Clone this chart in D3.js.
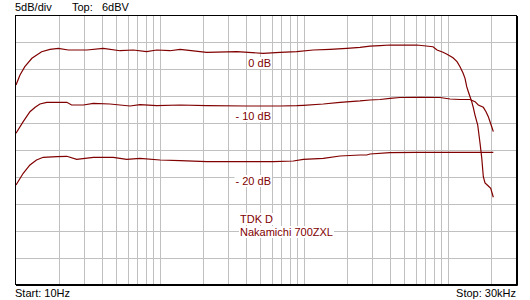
<!DOCTYPE html>
<head>
  <title>TDK D - Nakamichi 700ZXL</title>
  <style>
    body { margin: 0; background: #fff; }
    svg { display: block; }
    text { font-family: "Liberation Sans", Arial, sans-serif; font-size: 11px; }
    .grid line { stroke: #c0c0c0; stroke-width: 1; shape-rendering: crispEdges; }
    .grid path { display: none; }
  </style>
</head>

<body>
  <script src="https://cdn.jsdelivr.net/npm/d3@7"></script>
  <script>
    // data (Hz, dBV)
    var freq0  = [10.16, 10.83, 11.7, 13.1, 15.3, 17.5, 20, 23.4, 31.5, 41, 53.6, 66.2, 82, 96.3, 119, 140, 214, 346, 526, 691, 902, 1176, 1536, 2006, 2481, 2910, 3415, 4006, 4698, 6138, 7965, 8492, 9346, 9963, 10965, 11688, 12264, 12866, 13284, 13650, 14004, 14388, 14784, 15167, 15584, 16270, 16880, 17345, 17795, 18285, 19275, 20027, 20878];
    var level0 = [-7.01, -5.15, -3.61, -2.05, -0.82, -0.38, -0.19, -0.51, -0.51, -0.19, -0.64, -0.51, -0.82, -0.51, -0.64, -0.38, -0.93, -0.82, -1.12, -0.93, -0.82, -0.51, -0.38, -0.19, 0.0, 0.2, 0.3, 0.42, 0.4, 0.42, 0.1, -0.51, -0.93, -1.3, -1.94, -2.68, -3.61, -4.78, -5.77, -7.33, -8.26, -9.19, -10.1, -11.2, -12.6, -14.45, -17.79, -20.5, -24.06, -25.23, -25.78, -26.21, -27.88];

    var freq10  = [10.16, 11.4, 12.7, 13.8, 14.9, 16.6, 22.9, 24.7, 29.8, 35, 45.6, 62.8, 73.7, 96.3, 140, 214, 406, 691, 902, 1002, 1380, 1802, 2481, 2910, 3415, 4006, 4698, 6471, 8910, 10452, 12264, 14388, 15584, 16427, 17795, 18578, 19275, 19805, 20352, 20878];
    var level10 = [-15.99, -13.83, -11.97, -11.16, -10.54, -10.23, -10.23, -10.73, -10.73, -10.41, -10.54, -10.91, -10.67, -10.86, -10.73, -10.86, -10.91, -10.91, -10.86, -10.8, -10.54, -10.23, -9.98, -9.8, -9.71, -9.5, -9.33, -9.3, -9.33, -9.61, -9.71, -9.71, -10.11, -10.73, -11.16, -11.97, -12.9, -13.83, -14.76, -15.69];

    var freq20  = [10.16, 11.4, 12.7, 14.1, 15.7, 19.5, 22.9, 26.8, 35, 48.1, 59.6, 73.7, 101.5, 140, 214, 406, 620, 854, 1002, 1380, 1802, 2481, 2761, 2910, 4006, 6138, 10452, 14388, 17795, 20878];
    var level20 = [-25.6, -23.42, -21.88, -20.95, -20.45, -20.34, -20.26, -20.82, -20.45, -20.45, -20.82, -20.64, -20.95, -21.08, -21.27, -21.27, -21.27, -21.14, -20.82, -20.64, -20.21, -20.02, -20.02, -19.84, -19.59, -19.52, -19.52, -19.52, -19.52, -19.52];

    var curveLabels = ["0 dB", "- 10 dB", "- 20 dB"];
    var curveLabelLevels = [-3.67, -13.52, -25.6];
    var noteLines = ["TDK D", "Nakamichi 700ZXL"];

    var gridFreqs = [20, 30, 40, 50, 60, 70, 80, 90, 100, 200, 300, 400, 500, 600, 700, 800, 900,
                     1000, 2000, 3000, 4000, 5000, 6000, 7000, 8000, 9000, 10000, 20000];
    var gridLevels = [1, -4, -9, -14, -19, -24, -29, -34, -39];

    var red = "#800000";
    var width = 530, height = 300;
    var plot = {left: 15, top: 15, right: 516, bottom: 284};

    var svg = d3.select("body").append("svg")
      .attr("width", width)
      .attr("height", height);

    var xScale = d3.scaleLog().domain([10, 30000]).range([plot.left, plot.right]),
        yScale = d3.scaleLinear().domain([-44, 6]).range([plot.bottom, plot.top]);

    // grid
    svg.append("g")
      .attr("class", "grid")
      .attr("transform", "translate(0.5," + plot.bottom + ")")
      .call(d3.axisBottom(xScale).tickValues(gridFreqs).tickFormat("")
        .tickSize(-(plot.bottom - plot.top)).tickSizeOuter(0));

    svg.append("g")
      .attr("class", "grid")
      .attr("transform", "translate(" + plot.left + ",0.5)")
      .call(d3.axisLeft(yScale).tickValues(gridLevels).tickFormat("")
        .tickSize(-(plot.right - plot.left)).tickSizeOuter(0));

    // labels with white boxes
    function boxedText(x, y, str, anchor) {
      var g = svg.append("g");
      var t = g.append("text")
        .attr("x", x)
        .attr("y", y)
        .attr("text-anchor", anchor)
        .attr("fill", red)
        .text(str);
      var bb = t.node().getBBox();
      g.insert("rect", "text")
        .attr("x", bb.x - 1)
        .attr("y", bb.y)
        .attr("width", bb.width + 2)
        .attr("height", bb.height)
        .attr("fill", "#fff");
    }

    for (let i = 0; i < curveLabels.length; i++) {
      boxedText(271, yScale(curveLabelLevels[i]), curveLabels[i], "end");
    }
    for (let i = 0; i < noteLines.length; i++) {
      boxedText(240, 223 + 13 * i, noteLines[i], "start");
    }

    // curves
    var line = d3.line()
      .x(function(d) { return xScale(d[0]); })
      .y(function(d) { return yScale(d[1]); });

    var series = [[freq0, level0], [freq10, level10], [freq20, level20]];
    series.forEach(function(s) {
      svg.append("path")
        .attr("fill", "none")
        .attr("stroke", red)
        .attr("stroke-width", 1.2)
        .attr("d", line(d3.zip(s[0], s[1])));
    });

    // frame
    svg.append("rect")
      .attr("x", plot.left + 0.5)
      .attr("y", plot.top + 0.5)
      .attr("width", plot.right - plot.left)
      .attr("height", plot.bottom - plot.top)
      .attr("fill", "none")
      .attr("stroke", "#000")
      .attr("stroke-width", 1);
    svg.append("path")
      .attr("d", "M" + (plot.right + 1.5) + "," + (plot.top + 1) + "V" + (plot.bottom + 1.5) + "H" + (plot.left + 1))
      .attr("fill", "none")
      .attr("stroke", "#000")
      .attr("stroke-width", 1);

    // header and footer
    svg.append("text").attr("x", 15).attr("y", 11).text("5dB/div");
    svg.append("text").attr("x", 72).attr("y", 11).text("Top:");
    svg.append("text").attr("x", 102).attr("y", 11).text("6dBV");
    svg.append("text").attr("x", 15).attr("y", 297).text("Start: 10Hz");
    svg.append("text").attr("x", 516).attr("y", 297).attr("text-anchor", "end").text("Stop: 30kHz");
  </script>
</body>
